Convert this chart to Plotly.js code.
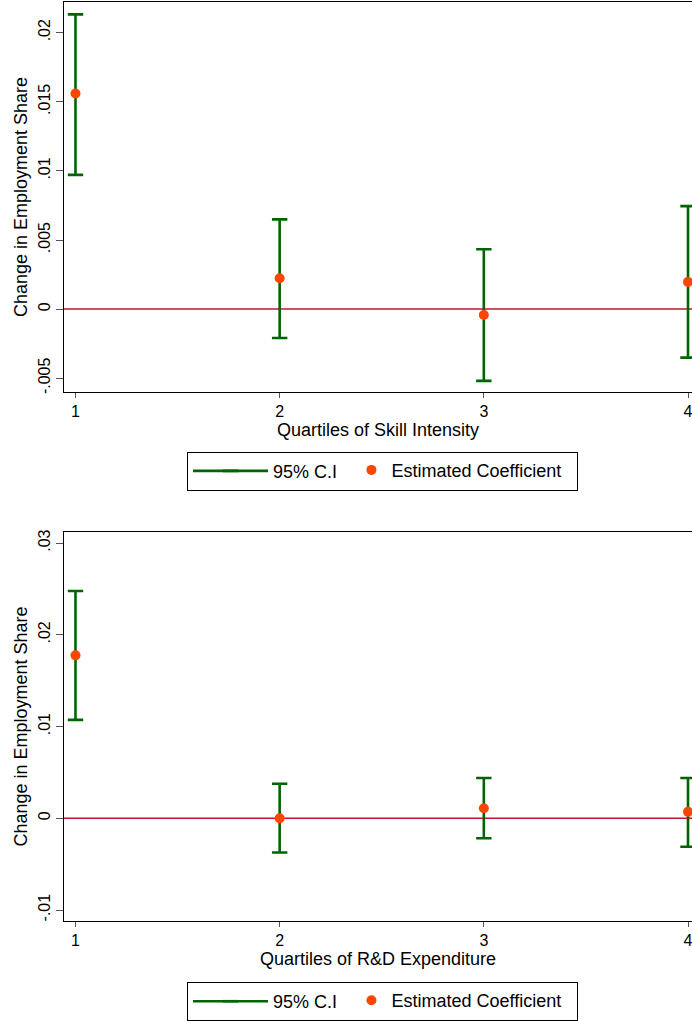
<!DOCTYPE html>
<html><head><meta charset="utf-8">
<script src="https://cdn.plot.ly/plotly-3.0.1.min.js"></script>
<style>html,body{margin:0;padding:0;background:#fff}</style>
</head><body><div id="chart" style="width:692px;height:1021px"></div>
<script>
const quartiles = [1, 2, 3, 4];
const quartileLabels = ['1', '2', '3', '4'];
const skillCoef = [0.0156, 0.00224, -0.00043, 0.00197];
const skillLo = [0.00971, -0.00209, -0.00519, -0.00351];
const skillHi = [0.02132, 0.00649, 0.00433, 0.00745];
const rdCoef = [0.01776, 0.0000, 0.00109, 0.0007];
const rdLo = [0.01073, -0.00373, -0.00217, -0.00311];
const rdHi = [0.02478, 0.00377, 0.00439, 0.00439];
const skillYTicks = [-0.005, 0, 0.005, 0.01, 0.015, 0.02];
const skillYTickText = ['-.005', '0', '.005', '.01', '.015', '.02'];
const rdYTicks = [-0.01, 0, 0.01, 0.02, 0.03];
const rdYTickText = ['-.01', '0', '.01', '.02', '.03'];
const refValue = 0;
const ciName = '95% C.I';
const coefName = 'Estimated Coefficient';
const skillXTitle = 'Quartiles of Skill Intensity';
const rdXTitle = 'Quartiles of R&D Expenditure';
const yTitle = 'Change in Employment Share';

const GREEN = '#006400', ORANGE = '#FF4500', FONT = 'Liberation Sans, Arial, sans-serif';

function ciTrace(lo, hi, xa, ya, leg) {
  const x = [], y = [];
  quartiles.forEach((q, i) => { x.push(q, q, null); y.push(lo[i], hi[i], null); });
  return {
    type: 'scatter', mode: 'lines+markers', x: x, y: y, xaxis: xa, yaxis: ya, legend: leg,
    name: ciName, connectgaps: false,
    line: {color: GREEN, width: 2.6},
    marker: {symbol: 'line-ew-open', size: 11, color: GREEN, line: {color: GREEN, width: 2.6}},
    hoverinfo: 'skip'
  };
}
function coefTrace(c, xa, ya, leg) {
  return {
    type: 'scatter', mode: 'markers', x: quartiles, y: c, xaxis: xa, yaxis: ya, legend: leg,
    name: coefName, marker: {color: ORANGE, size: 10}
  };
}

const xRange = [0.9437, 4.0196];
function xAxis(title, anchor) {
  return {
    domain: [0, 1], range: xRange, anchor: anchor,
    tickmode: 'array', tickvals: quartiles, ticktext: quartileLabels,
    ticks: 'outside', ticklen: 5, tickcolor: '#555', tickwidth: 1,
    ticklabeloverflow: 'allow',
    showline: true, linecolor: '#000', linewidth: 1, mirror: true,
    showgrid: false, zeroline: false,
    tickfont: {size: 16, color: '#000'},
    title: {text: title, font: {size: 18, color: '#000'}, standoff: 3}
  };
}
function yAxis(domain, range, tv, tt, anchor) {
  return {
    domain: domain, range: range, anchor: anchor,
    tickmode: 'array', tickvals: tv, ticktext: tt, tickangle: -90,
    ticks: 'outside', ticklen: 7, tickcolor: '#555', tickwidth: 1,
    showline: true, linecolor: '#000', linewidth: 1, mirror: false,
    showgrid: false, zeroline: false,
    tickfont: {size: 16, color: '#000'},
    title: {text: yTitle, font: {size: 18, color: '#000'}, standoff: 3}
  };
}
function ciLegend(yPos) {
  return {
    orientation: 'h', x: 0.1959, y: yPos, xanchor: 'left', yanchor: 'top',
    bordercolor: '#000', borderwidth: 1, bgcolor: '#fff',
    font: {size: 18, color: '#000', family: FONT}, itemwidth: 75,
    entrywidth: 299, entrywidthmode: 'pixels'
  };
}
function coefLegend(yPos) {
  return {
    orientation: 'h', x: 0.4577, y: yPos, xanchor: 'left', yanchor: 'top',
    borderwidth: 0, bgcolor: 'rgba(0,0,0,0)',
    font: {size: 18, color: '#000', family: FONT}, itemwidth: 30
  };
}

const data = [
  ciTrace(skillLo, skillHi, 'x', 'y', 'legend'),
  coefTrace(skillCoef, 'x', 'y', 'legend3'),
  ciTrace(rdLo, rdHi, 'x2', 'y2', 'legend2'),
  coefTrace(rdCoef, 'x2', 'y2', 'legend4')
];

const layout = {
  width: 692, height: 1021,
  margin: {l: 64, r: 0, t: 0, b: 0},
  paper_bgcolor: '#fff', plot_bgcolor: '#fff',
  font: {family: FONT, color: '#000'},
  showlegend: true,
  xaxis: xAxis(skillXTitle, 'y'),
  yaxis: yAxis([0.6154, 0.99755], [-0.00596, 0.02218], skillYTicks, skillYTickText, 'x'),
  xaxis2: xAxis(rdXTitle, 'y2'),
  yaxis2: yAxis([0.0950, 0.4777], [-0.01123, 0.03124], rdYTicks, rdYTickText, 'x2'),
  legend: ciLegend(0.5563),
  legend2: ciLegend(0.0353),
  legend3: coefLegend(0.5563),
  legend4: coefLegend(0.0353),
  shapes: [
    {type: 'line', xref: 'x domain', yref: 'y', x0: 0, x1: 1, y0: refValue, y1: refValue,
     line: {color: '#C8102E', width: 1.5}, layer: 'below'},
    {type: 'line', xref: 'x2 domain', yref: 'y2', x0: 0, x1: 1, y0: refValue, y1: refValue,
     line: {color: '#C8102E', width: 1.5}, layer: 'below'}
  ]
};

Plotly.newPlot('chart', data, layout, {displayModeBar: false, staticPlot: true});
</script></body></html>
